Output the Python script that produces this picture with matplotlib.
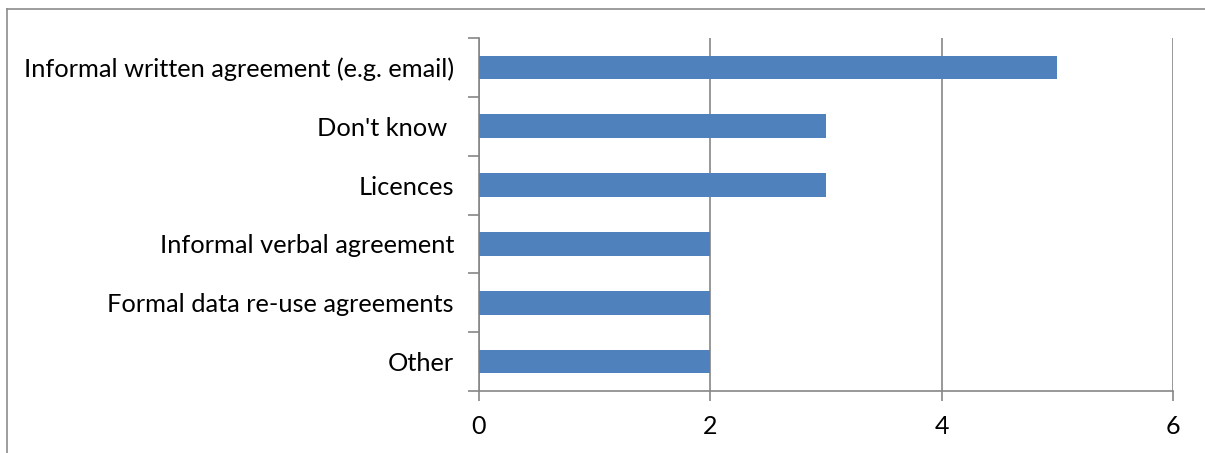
import numpy as np
import matplotlib.pyplot as plt
from matplotlib.lines import Line2D

# Responses, listed top to bottom as shown
categories = [
    "Informal written agreement (e.g. email)",
    "Don't know ",
    "Licences",
    "Informal verbal agreement",
    "Formal data re-use agreements",
    "Other",
]
counts = [5, 3, 3, 2, 2, 2]
x_ticks = [0, 2, 4, 6]

bar_color = "#4F81BD"
line_color = "#868686"

plt.rcParams["font.family"] = ["Lato", "DejaVu Sans"]

fig = plt.figure(figsize=(12.05, 4.53), dpi=100)
ax = fig.add_axes([479 / 1205, 1 - 391 / 453, (1173 - 479) / 1205, (391 - 38) / 453])

y = np.arange(len(categories))[::-1]
ax.barh(y, counts, height=0.4, color=bar_color, zorder=3)

ax.set_xlim(0, 6)
ax.set_ylim(-0.5, len(categories) - 0.5)
ax.set_xticks(x_ticks)
ax.set_xticklabels([str(t) for t in x_ticks])
ax.set_yticks(y)
ax.set_yticklabels(categories)
ax.set_yticks(np.arange(-0.5, len(categories)), minor=True)

ax.xaxis.grid(True, color=line_color, linewidth=1.2, zorder=0)
ax.tick_params(axis="x", length=7, width=1.2, color=line_color, pad=10, labelsize=18)
ax.tick_params(axis="y", which="major", length=0, pad=18, labelsize=18.3)
ax.tick_params(axis="y", which="minor", length=8, width=1.2, color=line_color)

for side in ("top", "right"):
    ax.spines[side].set_visible(False)
for side in ("left", "bottom"):
    ax.spines[side].set_color(line_color)
    ax.spines[side].set_linewidth(1.2)

# chart area frame (only the left and top edges fall inside the image)
fig.add_artist(Line2D([7 / 1205, 7 / 1205], [0, 1 - 9 / 453], transform=fig.transFigure,
                      color="#8C8C8C", linewidth=1.2))
fig.add_artist(Line2D([7 / 1205, 1], [1 - 9 / 453, 1 - 9 / 453], transform=fig.transFigure,
                      color="#8C8C8C", linewidth=1.2))

fig.savefig("out.png", dpi=100)
